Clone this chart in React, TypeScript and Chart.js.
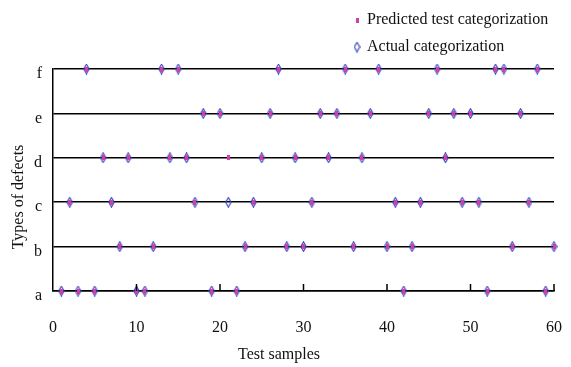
import React, { useEffect, useRef } from 'react';
import { Chart, registerables } from 'chart.js';

Chart.register(...registerables);

const categories = ['a', 'b', 'c', 'd', 'e', 'f'];

const actualA = [1, 3, 5, 10, 11, 19, 22, 42, 52, 59];
const actualB = [8, 12, 23, 28, 30, 36, 40, 43, 55, 60];
const actualC = [2, 7, 17, 21, 24, 31, 41, 44, 49, 51, 57];
const actualD = [6, 9, 14, 16, 25, 29, 33, 37, 47];
const actualE = [18, 20, 26, 32, 34, 38, 45, 48, 50, 56];
const actualF = [4, 13, 15, 27, 35, 39, 46, 53, 54, 58];

const predictedA = [1, 3, 5, 10, 11, 19, 22, 42, 52, 59];
const predictedB = [8, 12, 23, 28, 30, 36, 40, 43, 55, 60];
const predictedC = [2, 7, 17, 24, 31, 41, 44, 49, 51, 57];
const predictedD = [6, 9, 14, 16, 21, 25, 29, 33, 37, 47];
const predictedE = [18, 20, 26, 32, 34, 38, 45, 48, 50, 56];
const predictedF = [4, 13, 15, 27, 35, 39, 46, 53, 54, 58];

const xTickValues = [0, 10, 20, 30, 40, 50, 60];

const seriesLabels = ['Predicted test categorization', 'Actual categorization'];
const xTitle = 'Test samples';
const yTitle = 'Types of defects';

const BLUE = '#3a4ac0';
const PINK = '#d23ea6';
const FONT = "'Liberation Serif', 'Times New Roman', serif";

function toPoints(rows: number[][]) {
  const pts: { x: number; y: number }[] = [];
  rows.forEach((row, i) => row.forEach((x) => pts.push({ x, y: i })));
  return pts;
}

function makeDiamond(): HTMLCanvasElement {
  const c = document.createElement('canvas');
  c.width = 7;
  c.height = 11;
  const ctx = c.getContext('2d')!;
  ctx.strokeStyle = BLUE;
  ctx.lineWidth = 1.2;
  ctx.beginPath();
  ctx.moveTo(3.5, 0.8);
  ctx.lineTo(6.2, 5.5);
  ctx.lineTo(3.5, 10.2);
  ctx.lineTo(0.8, 5.5);
  ctx.closePath();
  ctx.stroke();
  return c;
}

function makeRect(): HTMLCanvasElement {
  const c = document.createElement('canvas');
  c.width = 3;
  c.height = 5;
  const ctx = c.getContext('2d')!;
  ctx.fillStyle = PINK;
  ctx.fillRect(0, 0, 3, 5);
  return c;
}

export default function App() {
  const ref = useRef<HTMLCanvasElement | null>(null);

  useEffect(() => {
    document.body.style.margin = '0';
    const canvas = ref.current;
    if (!canvas) return;
    const diamond = makeDiamond();
    const rect = makeRect();

    const extras = {
      id: 'extras',
      afterDraw(chart: any) {
        const ctx = chart.ctx as CanvasRenderingContext2D;
        const xs = chart.scales.x;
        const area = chart.chartArea;
        ctx.save();
        ctx.strokeStyle = '#000';
        ctx.lineWidth = 1.5;
        xs.ticks.forEach((t: any) => {
          if (t.value === 0) return;
          const px = xs.getPixelForValue(t.value);
          ctx.beginPath();
          ctx.moveTo(px, area.bottom);
          ctx.lineTo(px, area.bottom - 7);
          ctx.stroke();
        });
        ctx.fillStyle = '#111';
        ctx.font = `16px ${FONT}`;
        ctx.textAlign = 'center';
        ctx.textBaseline = 'middle';
        ctx.fillText(xTitle, 279, 355);
        ctx.translate(18.5, 197);
        ctx.rotate(-Math.PI / 2);
        ctx.fillText(yTitle, 0, 0);
        ctx.restore();
        ctx.save();
        ctx.font = `16px ${FONT}`;
        ctx.fillStyle = '#111';
        ctx.textAlign = 'left';
        ctx.textBaseline = 'middle';
        ctx.drawImage(rect, 357 - 1.5, 20 - 2.5);
        ctx.fillText(seriesLabels[0], 367, 20);
        ctx.drawImage(diamond, 357 - 3.5, 47 - 5.5);
        ctx.fillText(seriesLabels[1], 367, 47);
        ctx.restore();
      },
    };

    const chart = new Chart(canvas, {
      type: 'scatter',
      data: {
        datasets: [
          {
            label: seriesLabels[0],
            data: toPoints([predictedA, predictedB, predictedC, predictedD, predictedE, predictedF]),
            pointStyle: rect as any,
            backgroundColor: PINK,
            borderColor: PINK,
            clip: false as any,
          },
          {
            label: seriesLabels[1],
            data: toPoints([actualA, actualB, actualC, actualD, actualE, actualF]),
            pointStyle: diamond as any,
            backgroundColor: BLUE,
            borderColor: BLUE,
            clip: false as any,
          },
        ],
      },
      options: {
        responsive: false,
        animation: false,
        layout: { padding: { top: 69, right: 17, bottom: 0, left: 0 } },
        plugins: {
          legend: { display: false },
          tooltip: { enabled: false },
        },
        scales: {
          x: {
            type: 'linear',
            min: 0,
            max: 60,
            afterBuildTicks: (scale: any) => {
              scale.ticks = xTickValues.map((v) => ({ value: v }));
            },
            afterFit: (scale: any) => {
              scale.height = 76;
              scale.paddingRight = 8;
              scale.paddingLeft = 4;
            },
            grid: { display: false, drawTicks: false },
            border: { display: true, color: '#000', width: 1.5 },
            ticks: {
              padding: 27,
              color: '#111',
              font: { family: FONT, size: 16 },
              maxRotation: 0,
              autoSkip: false,
            },
            title: { display: false, text: xTitle },
          },
          y: {
            type: 'linear',
            min: 0,
            max: 5,
            afterFit: (scale: any) => {
              scale.width = 53;
            },
            grid: { color: '#000', lineWidth: 1.5, drawTicks: false },
            border: { display: true, color: '#000', width: 1.5 },
            ticks: {
              stepSize: 1,
              padding: 11,
              labelOffset: 5,
              color: '#111',
              font: { family: FONT, size: 16 },
              callback: (v: any) => categories[v as number] ?? '',
            },
            title: { display: false, text: yTitle },
          },
        },
      },
      plugins: [extras],
    });

    return () => chart.destroy();
  }, []);

  return (
    <div style={{ width: 571, height: 367 }}>
      <canvas ref={ref} width={571} height={367} style={{ display: 'block' }} />
    </div>
  );
}
